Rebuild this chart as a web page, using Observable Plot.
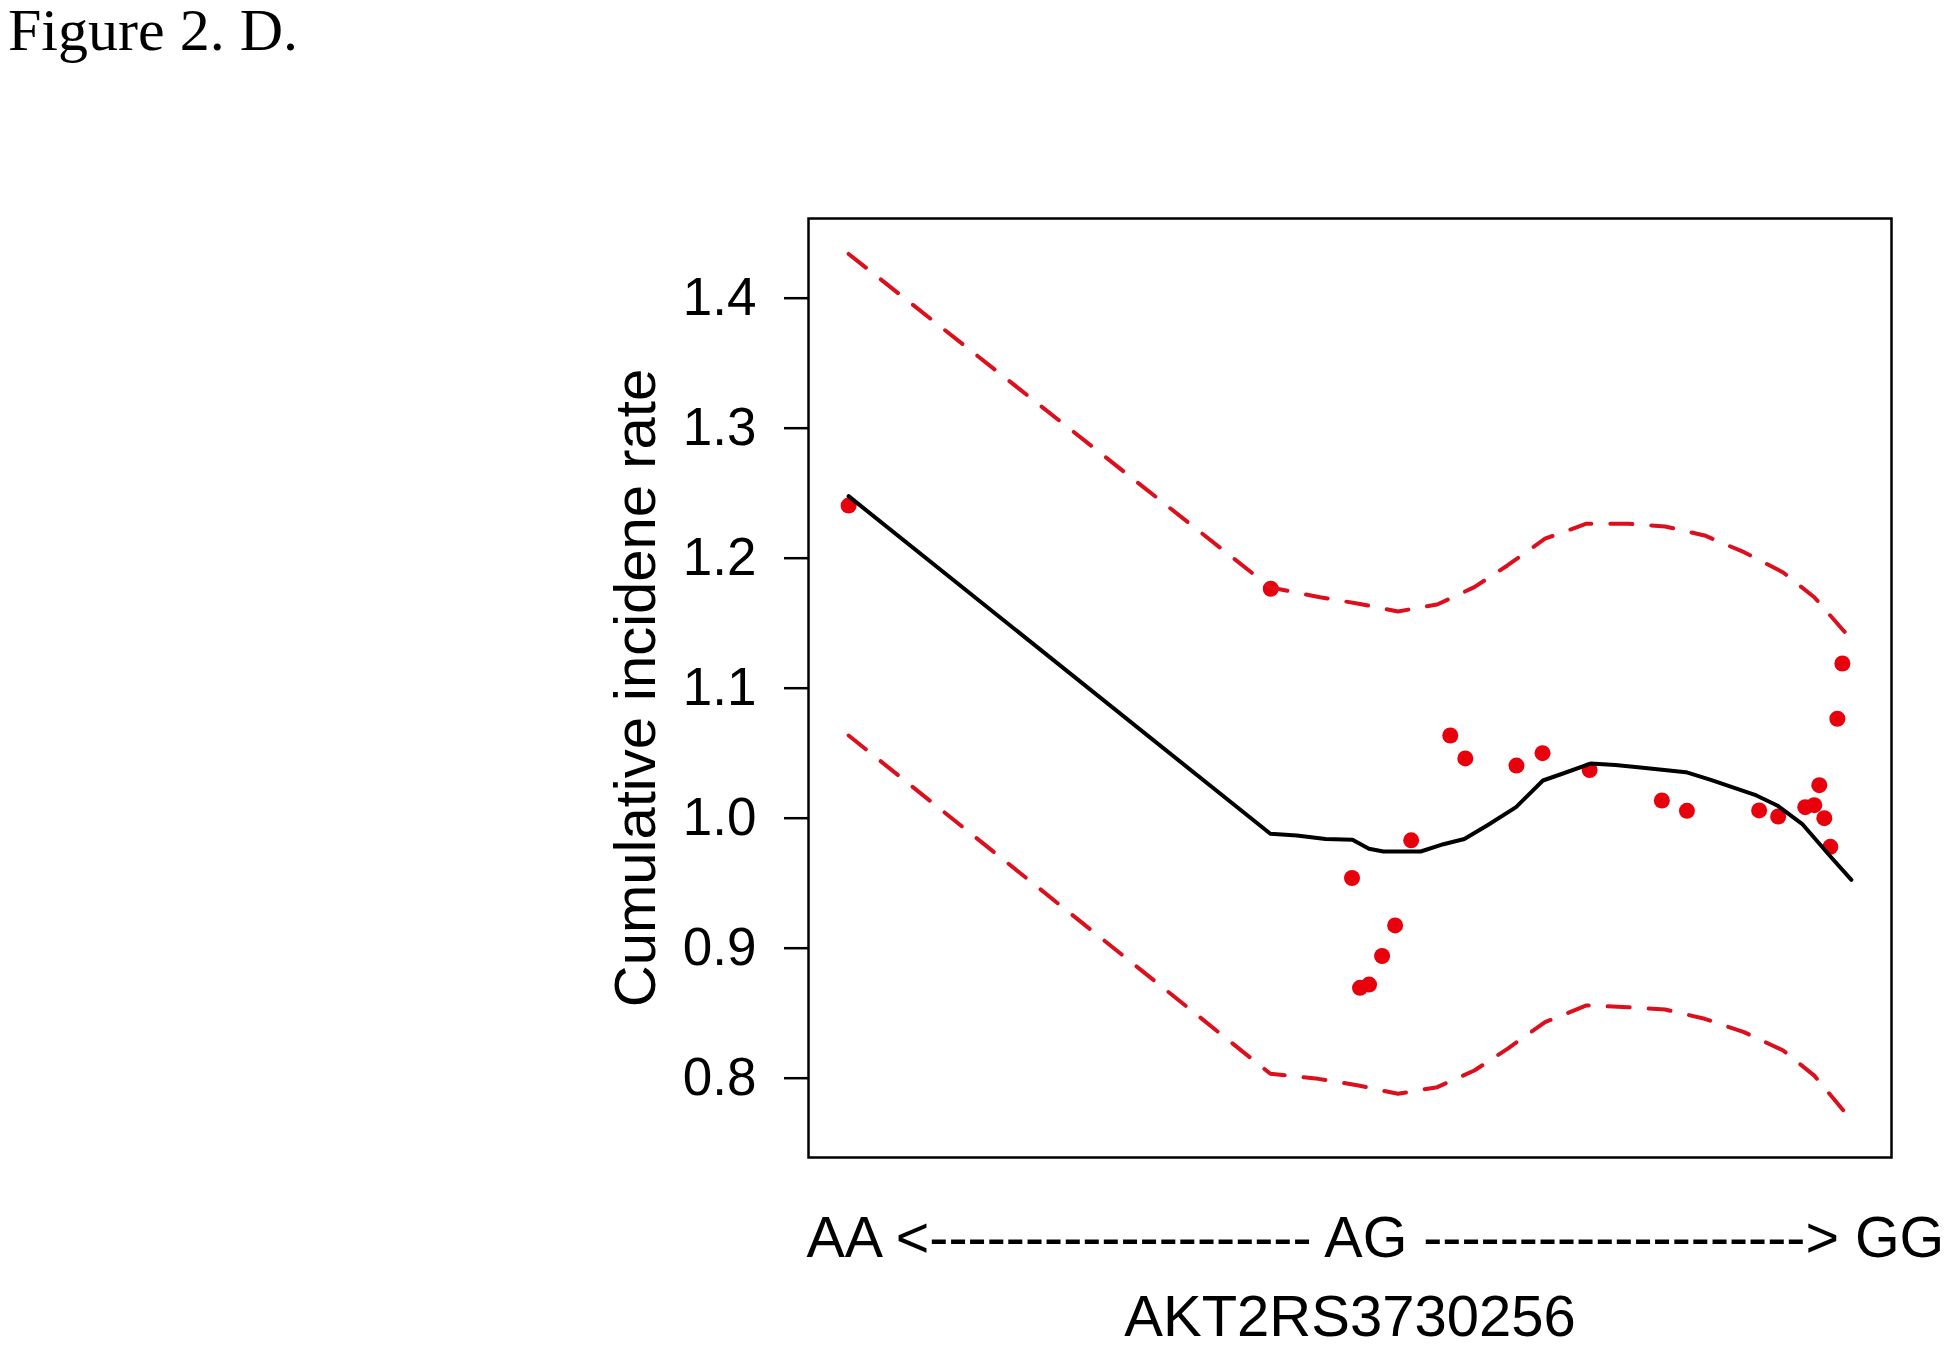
<!DOCTYPE html>
<html>
<head>
<meta charset="utf-8">
<script src="https://cdn.jsdelivr.net/npm/d3@7"></script>
<script src="https://cdn.jsdelivr.net/npm/@observablehq/plot@0.6"></script>
<style>
  html, body { margin: 0; padding: 0; background: #fff; }
  #title { font-family: "Liberation Serif", "Times New Roman", serif; font-size: 60px; line-height: 60px; height: 60px; padding-left: 8px; color: #000; white-space: nowrap; }
  #chart svg { display: block; }
</style>
</head>
<body>
<div id="title">Figure 2. D.</div>
<div id="chart"></div>
<script>
// ---- data (x = position from AA (0) to GG (1)) ----
const pointX = [0.000, 0.421, 0.502, 0.510, 0.519, 0.532, 0.545, 0.561, 0.600, 0.615, 0.666, 0.692, 0.739, 0.811, 0.836, 0.908, 0.927, 0.954, 0.963, 0.968, 0.973, 0.979, 0.986, 0.991];
const pointY = [1.2405, 1.1765, 0.954, 0.8695, 0.872, 0.894, 0.9175, 0.983, 1.0636, 1.046, 1.0405, 1.050, 1.037, 1.0136, 1.0057, 1.006, 1.0013, 1.0085, 1.010, 1.0254, 1.000, 0.978, 1.0765, 1.119];

const fitX = [0.000, 0.4206, 0.447, 0.4756, 0.5025, 0.5189, 0.5333, 0.5705, 0.5932, 0.614, 0.6367, 0.6656, 0.6924, 0.711, 0.740, 0.7647, 0.7896, 0.835, 0.8598, 0.9053, 0.926, 0.9508, 0.9798, 1.000];
const fitY = [1.2477, 0.988, 0.9867, 0.984, 0.9834, 0.9765, 0.9744, 0.9744, 0.980, 0.984, 0.9944, 1.0085, 1.029, 1.034, 1.042, 1.041, 1.039, 1.0354, 1.0295, 1.0175, 1.0098, 0.9957, 0.970, 0.9526];

const upperX = [0.000, 0.4206, 0.470, 0.5085, 0.5478, 0.587, 0.624, 0.657, 0.6945, 0.7358, 0.777, 0.8143, 0.8536, 0.893, 0.932, 0.963, 0.992, 1.000];
const upperY = [1.434, 1.1775, 1.170, 1.165, 1.159, 1.1644, 1.1777, 1.1944, 1.215, 1.2265, 1.2265, 1.2244, 1.2175, 1.2046, 1.189, 1.170, 1.1444, 1.138];

const lowerX = [0.000, 0.4206, 0.4685, 0.5085, 0.5478, 0.587, 0.624, 0.657, 0.6945, 0.7358, 0.777, 0.8143, 0.8536, 0.893, 0.932, 0.963, 0.992, 1.000];
const lowerY = [1.0636, 0.8034, 0.7995, 0.7944, 0.788, 0.7931, 0.8059, 0.8226, 0.8431, 0.856, 0.8546, 0.8528, 0.8457, 0.8354, 0.8213, 0.802, 0.7752, 0.768];

const yTicks = [0.8, 0.9, 1.0, 1.1, 1.2, 1.3, 1.4];
const genotypeLabels = ["AA", "AG", "GG"];
const yTitle = "Cumulative incidene rate";
const xTitle = "AKT2RS3730256";

// ---- build tables ----
const points = pointX.map((x, i) => ({x, y: pointY[i]}));
const fit = fitX.map((x, i) => ({x, y: fitY[i]}));
const upper = upperX.map((x, i) => ({x, y: upperY[i]}));
const lower = lowerX.map((x, i) => ({x, y: lowerY[i]}));
const dashes = "-".repeat(20);
const genotypeLine = `${genotypeLabels[0]} <${dashes} ${genotypeLabels[1]} ${dashes}> ${genotypeLabels[2]}`;

const red = "#e8000c";
const dashRed = "#dc0f1c";

const chart = Plot.plot({
  width: 1950,
  height: 1292,
  marginLeft: 808,
  marginRight: 59,
  marginTop: 158,
  marginBottom: 195,
  style: {fontFamily: "'Liberation Sans', Arial, sans-serif", color: "#000", background: "#fff"},
  x: {domain: [-0.04, 1.04], axis: null},
  y: {domain: [0.739, 1.4613], axis: null},
  marks: [
    Plot.frame({stroke: "#000", strokeWidth: 2.5}),
    Plot.axisY({ticks: yTicks, tickSize: 24, tickPadding: 28, tickFormat: d3.format(".1f"), fontSize: 53, strokeWidth: 2.5, label: null}),
    Plot.dot(points, {x: "x", y: "y", r: 8, fill: red, stroke: "none"}),
    Plot.line(upper, {x: "x", y: "y", stroke: dashRed, strokeWidth: 4, strokeDasharray: "22,19"}),
    Plot.line(lower, {x: "x", y: "y", stroke: dashRed, strokeWidth: 4, strokeDasharray: "22,19"}),
    Plot.line(fit, {x: "x", y: "y", stroke: "#000", strokeWidth: 4}),
    Plot.text([yTitle], {frameAnchor: "left", text: d => d, textAnchor: "middle", rotate: -90, dx: -172, fontSize: 58, fill: "#000"}),
    Plot.text([genotypeLine], {frameAnchor: "bottom-left", text: d => d, textAnchor: "start", dx: -2, dy: 99, fontSize: 57.4, fill: "#000"}),
    Plot.text([xTitle], {frameAnchor: "bottom", text: d => d, dy: 178, fontSize: 58, fill: "#000"})
  ]
});
document.getElementById("chart").appendChild(chart);
</script>
</body>
</html>
